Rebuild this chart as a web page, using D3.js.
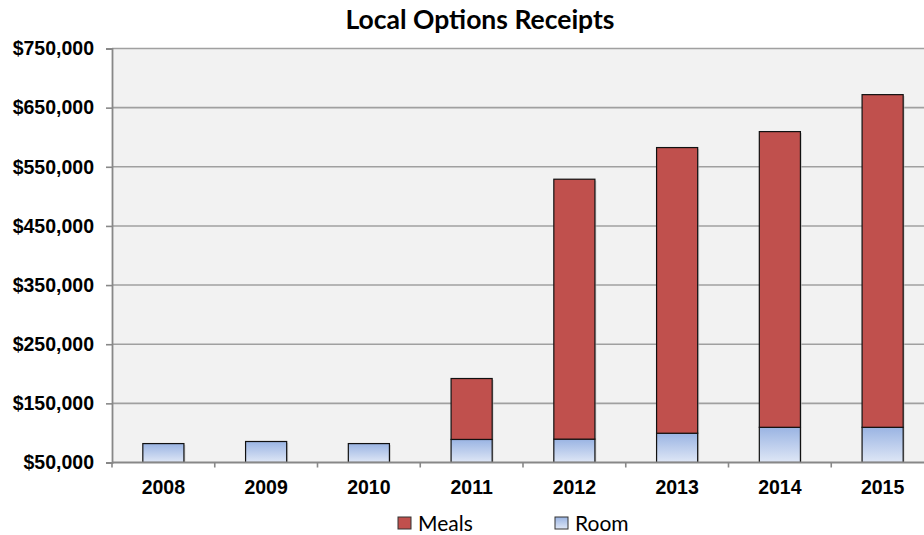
<!DOCTYPE html>
<html><head><meta charset="utf-8">
<script src="https://cdn.jsdelivr.net/npm/d3@7"></script>
<style>body{margin:0;background:#fff;}svg{display:block;}</style>
</head><body>
<svg id="c" width="924" height="535"></svg>
<script>
const years = ["2008","2009","2010","2011","2012","2013","2014","2015"];
const room  = [82000, 85500, 82000, 89000, 89500, 99500, 109500, 109500];
const meals = [0, 0, 0, 103000, 439500, 483000, 500000, 562500];
const yTicks = [50000,150000,250000,350000,450000,550000,650000,750000];
const seriesNames = ["Meals","Room"];

const svg = d3.select("#c");
const L = 112, T = 48.5, B = 462.5, W = 822;
const x = d3.scaleBand().domain(years).range([L, L+W]).paddingInner(0.6).paddingOuter(0.3);
const y = d3.scaleLinear().domain([50000, 750000]).range([B, T]).clamp(true);

const defs = svg.append("defs");
const g = defs.append("linearGradient").attr("id","roomGrad").attr("x1",0).attr("y1",0).attr("x2",0).attr("y2",1);
g.append("stop").attr("offset","0%").attr("stop-color","#9ab4e3");
g.append("stop").attr("offset","100%").attr("stop-color","#dfe7f6");
defs.append("clipPath").attr("id","clip").append("rect").attr("x",L).attr("y",T-2).attr("width",W).attr("height",B-T+2);

svg.append("rect").attr("x",L).attr("y",T).attr("width",W).attr("height",B-T).attr("fill","#f2f2f2");

// gridlines
svg.append("g").selectAll("line").data(yTicks.slice(1)).join("line")
  .attr("x1",L).attr("x2",L+W).attr("y1",d=>y(d)).attr("y2",d=>y(d))
  .attr("stroke","#a0a0a0").attr("stroke-width",1.6);

// y axis
const ya = svg.append("g").attr("transform",`translate(${L},0)`)
  .call(d3.axisLeft(y).tickValues(yTicks).tickSize(6).tickPadding(12).tickFormat(d=>"$"+d3.format(",")(d)));
ya.select(".domain").attr("stroke","#888").attr("stroke-width",1.8);
ya.selectAll(".tick line").attr("stroke","#888").attr("stroke-width",1.6);
ya.selectAll("text").attr("font-family","Liberation Sans, Arial, sans-serif").attr("font-weight","bold").attr("font-size","19.5px").attr("fill","#000");

const plot = svg.append("g").attr("clip-path","url(#clip)");
const bw = x.bandwidth();
years.forEach((yr,i)=>{
  const top = room[i]+meals[i];
  plot.append("rect").attr("x",x(yr)+1.5).attr("y",y(top)+1.5).attr("width",bw).attr("height",B-y(top))
    .attr("fill","#bbb").attr("opacity",0.6);
});
plot.selectAll(".room").data(years).join("rect").attr("class","room")
  .attr("x",d=>x(d)).attr("width",bw)
  .attr("y",(d,i)=>y(room[i])).attr("height",(d,i)=>B-y(room[i]))
  .attr("fill","url(#roomGrad)").attr("stroke","#111").attr("stroke-width",1.2);
plot.selectAll(".meals").data(years.filter((d,i)=>meals[i]>0)).join("rect").attr("class","meals")
  .attr("x",d=>x(d)).attr("width",bw)
  .attr("y",d=>{const i=years.indexOf(d);return y(room[i]+meals[i]);})
  .attr("height",d=>{const i=years.indexOf(d);return y(room[i])-y(room[i]+meals[i]);})
  .attr("fill","#c0504d").attr("stroke","#111").attr("stroke-width",1.2);

// x axis
const xa = svg.append("g");
xa.append("line").attr("x1",L).attr("x2",L+W).attr("y1",B).attr("y2",B).attr("stroke","#888").attr("stroke-width",1.8);
const bounds = d3.range(years.length+1).map(i=>L + i*W/years.length);
xa.selectAll(".xt").data(bounds).join("line").attr("x1",d=>d).attr("x2",d=>d).attr("y1",B).attr("y2",B+5).attr("stroke","#888").attr("stroke-width",1.6);
xa.selectAll("text").data(years).join("text").attr("x",d=>x(d)+bw/2).attr("y",494)
  .attr("text-anchor","middle").attr("font-family","Liberation Sans, Arial, sans-serif").attr("font-weight","bold").attr("font-size","19.5px").text(d=>d);

// title
svg.append("text").attr("x",480).attr("y",28.5).attr("text-anchor","middle")
  .attr("font-family","Lato, Carlito, sans-serif").attr("font-weight","bold").attr("font-size","26.5px").text("Local Options Receipts");

// legend
const leg = [{name:seriesNames[0], fill:"#c0504d", x:398},{name:seriesNames[1], fill:"url(#roomGrad)", x:555}];
const lg = svg.append("g");
leg.forEach(l=>{
  lg.append("rect").attr("x",l.x).attr("y",517).attr("width",13).attr("height",12).attr("fill",l.fill).attr("stroke","#333").attr("stroke-width",1);
  lg.append("text").attr("x",l.x+20).attr("y",530.5).attr("font-family","Lato, Carlito, sans-serif").attr("font-size","21px").text(l.name);
});
</script>
</body></html>
